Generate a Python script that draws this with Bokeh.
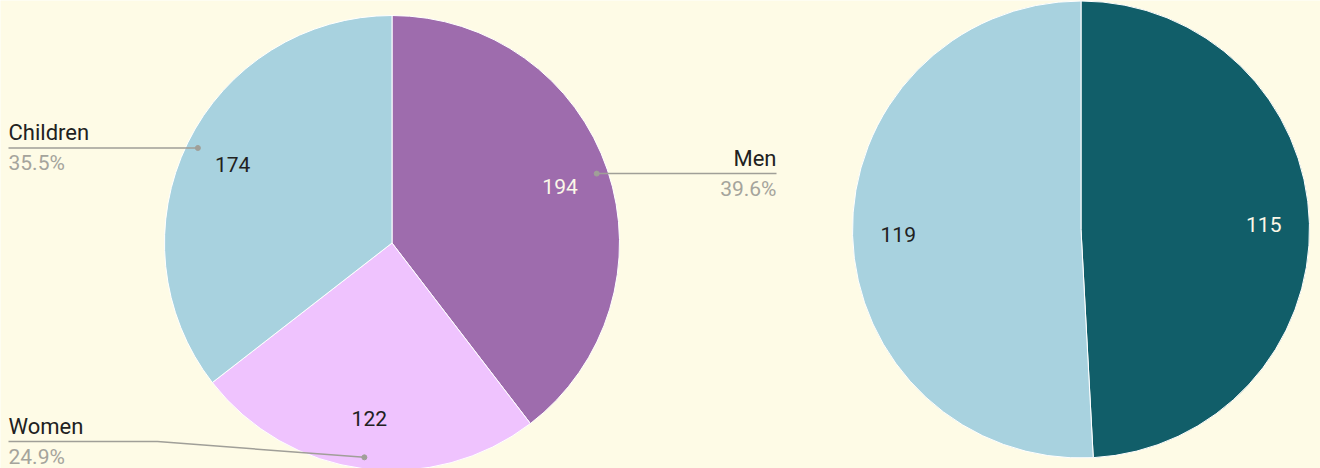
import numpy as np
from bokeh.plotting import figure
from bokeh.models import Range1d, ColumnDataSource
from bokeh.embed import file_html
from bokeh.resources import INLINE
from bokeh.core.properties import value

# ---------------- data ----------------
left_categories = ["Men", "Women", "Children"]
left_values = [194, 122, 174]
left_colors = ["#9e6cad", "#efc3fe", "#a8d2df"]
left_value_colors = ["#fbf8e8", "#212121", "#212121"]

right_values = [115, 119]
right_colors = ["#115e69", "#a8d2df"]
right_value_colors = ["#fbf8e8", "#212121"]

# ---------------- style / layout ----------------
BG = "#fefbe6"
FONT = value("Roboto")
FS = "21px"
FS_NAME = "22px"
W, H = 1320, 468

p = figure(width=W, height=H, x_range=Range1d(0, W), y_range=Range1d(0, H),
           x_axis_type=None, y_axis_type=None, toolbar_location=None,
           output_backend="svg", min_border=0)
p.background_fill_color = BG
p.border_fill_color = BG
p.outline_line_color = None
p.xgrid.visible = False
p.ygrid.visible = False


def pie(cx, cy, r, vals, colors, txt_colors, label_frac):
    vals = np.array(vals, dtype=float)
    frac = vals / vals.sum()
    cum = np.concatenate([[0], np.cumsum(frac)]) * 2 * np.pi
    a0, a1 = cum[:-1], cum[1:]
    mid = (a0 + a1) / 2
    src = ColumnDataSource(dict(
        start=np.pi / 2 - a0, end=np.pi / 2 - a1, color=colors,
        lx=cx + label_frac * r * np.sin(mid), ly=cy + label_frac * r * np.cos(mid),
        txt=[str(int(v)) for v in vals], tc=txt_colors))
    p.wedge(x=cx, y=cy, radius=r, start_angle="start", end_angle="end",
            direction="clock", fill_color="color", line_color="white",
            line_width=1, source=src)
    p.text(x="lx", y="ly", text="txt", text_color="tc", text_align="center",
           text_baseline="middle", text_font=FONT, text_font_size=FS, source=src)
    return frac, mid


# left pie
LCX, LCY, LR = 391.5, 225.5, 227.5
frac_l, mid_l = pie(LCX, LCY, LR, left_values, left_colors, left_value_colors, 0.78)

# right pie
pie(1080.5, 239.0, 228.5, right_values, right_colors, right_value_colors, 0.80)

# leader lines and labels for the left pie
LEFT_X, RIGHT_X, ELBOW, FLOOR = 8.0, 776.0, 149.0, 27.0
xs, ys, dx, dy = [], [], [], []
name_x, name_y, name_t, name_a = [], [], [], []
pct_t = []
for cat, f, m in zip(left_categories, frac_l, mid_l):
    px = LCX + 0.95 * LR * np.sin(m)
    py = LCY + 0.95 * LR * np.cos(m)
    ly = max(py, FLOOR)
    if px < LCX:
        tx, ex, al = LEFT_X, LEFT_X + ELBOW, "left"
    else:
        tx, ex, al = RIGHT_X, RIGHT_X - ELBOW, "right"
    xs.append([px, ex, tx])
    ys.append([py, ly, ly])
    dx.append(px)
    dy.append(py)
    name_x.append(tx)
    name_y.append(ly)
    name_t.append(cat)
    name_a.append(al)
    pct_t.append(f"{f * 100:.1f}%")

p.multi_line(xs=xs, ys=ys, line_color="#a09f98", line_width=1.5)
p.scatter(x=dx, y=dy, size=5, color="#a09f98")

lab = ColumnDataSource(dict(x=name_x, y=[v + 15 for v in name_y],
                            y2=[v - 15 for v in name_y], t=name_t, p=pct_t, a=name_a))
p.text(x="x", y="y", text="t", text_align="a", text_baseline="middle",
       text_color="#212121", text_font=FONT, text_font_size=FS_NAME, source=lab)
p.text(x="x", y="y2", text="p", text_align="a", text_baseline="middle",
       text_color="#a5a49c", text_font=FONT, text_font_size=FS, source=lab)

html = file_html(p, INLINE)
open("out.html", "w").write(html)
